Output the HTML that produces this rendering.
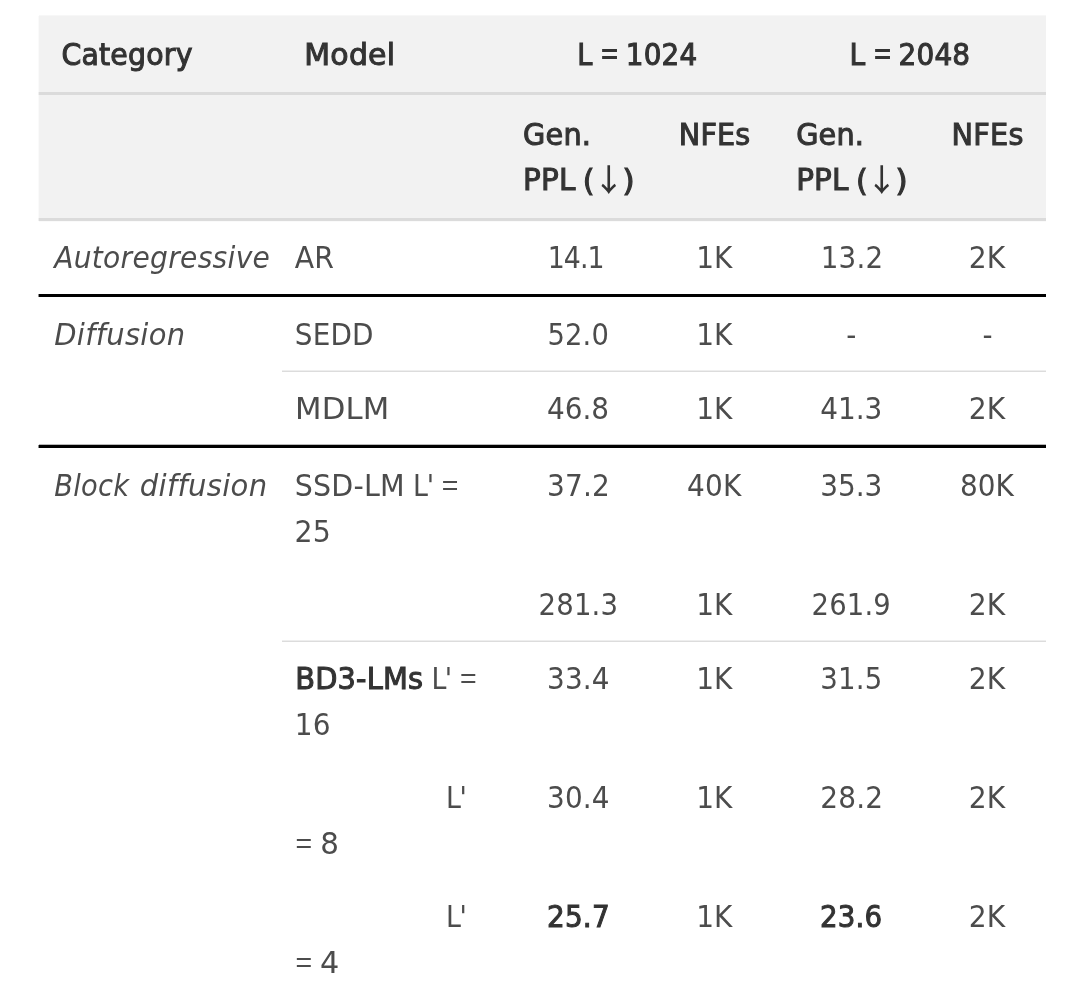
<!DOCTYPE html>
<html lang="en"><head><meta charset="utf-8"><title>Table</title>
<style>
html,body{margin:0;padding:0;background:#fff}
body{width:1080px;height:987px;position:relative;overflow:hidden;font-family:"DejaVu Sans Condensed", "DejaVu Sans", "Liberation Sans", sans-serif;-webkit-font-smoothing:antialiased}
.t{position:absolute;white-space:pre;line-height:1.4;margin:0;padding:0;font-stretch:condensed;transform-origin:0 0}
.H{font-size:31px;color:#333333;font-weight:normal;font-style:normal;-webkit-text-stroke:1.0px #333333;}
.B{font-size:31px;color:#4c4c4c;font-weight:normal;font-style:normal;}
.I{font-size:31px;color:#4c4c4c;font-weight:normal;font-style:italic;}
.S{font-size:31px;color:#333333;font-weight:normal;font-style:normal;-webkit-text-stroke:1.0px #333333;}
.bg{position:absolute;background:#f2f2f2}
.ln{position:absolute}
.tbl,.row,.cell{position:static;margin:0;padding:0;border:0;font-size:0;line-height:0}
.eqb,.eqh,.arr{font-family:'Noto Sans CJK SC','Noto Sans CJK JP','Liberation Sans',sans-serif;line-height:0;-webkit-text-stroke:0;font-stretch:normal}
.eqb{font-size:29px;font-weight:400}
.eqh{font-size:29px;font-weight:700}
.arr{font-size:31px;font-weight:500}
</style></head><body>
<div class="ln" style="left:39px;top:16px;width:1007px;height:205px;background:#f2f2f2"></div>
<div class="ln" style="left:39px;top:15px;width:1007px;height:1px;background:#f7f7f7"></div>
<div class="ln" style="left:38px;top:16px;width:1px;height:205px;background:#fafafa"></div>
<div class="ln" style="left:39px;top:92px;width:1007px;height:3px;background:#dbdbdb"></div>
<div class="ln" style="left:38px;top:92px;width:1px;height:3px;background:#f0f0f0"></div>
<div class="ln" style="left:39px;top:218px;width:1007px;height:3px;background:#dbdbdb"></div>
<div class="ln" style="left:38px;top:218px;width:1px;height:3px;background:#f0f0f0"></div>
<div class="ln" style="left:39px;top:221px;width:1007px;height:1px;background:#fafafa"></div>
<div class="ln" style="left:39px;top:294px;width:1007px;height:3px;background:#000"></div>
<div class="ln" style="left:38px;top:294px;width:1px;height:3px;background:#8c8c8c"></div>
<div class="ln" style="left:39px;top:444px;width:1007px;height:1px;background:#b8b8b8"></div>
<div class="ln" style="left:39px;top:445px;width:1007px;height:3px;background:#000"></div>
<div class="ln" style="left:38px;top:445px;width:1px;height:3px;background:#8c8c8c"></div>
<div class="ln" style="left:282px;top:370px;width:764px;height:1px;background:#eeeeee"></div>
<div class="ln" style="left:282px;top:371px;width:764px;height:1px;background:#dcdcdc"></div>
<div class="ln" style="left:282px;top:640px;width:764px;height:1px;background:#eeeeee"></div>
<div class="ln" style="left:282px;top:641px;width:764px;height:1px;background:#dcdcdc"></div>
<div role="table" class="tbl">
<div role="row" class="row">
<div role="columnheader" class="cell"><span class="t H" id="h_cat" style="left:61.00px;top:33px;letter-spacing:0.200px;transform:translateX(0.41px) scaleX(1.0176)">Category</span></div>
<div role="columnheader" class="cell"><span class="t H" id="h_model" style="left:304.00px;top:33px;letter-spacing:0.200px;transform:translateX(0.31px) scaleX(1.0733)">Model</span></div>
<div role="columnheader" class="cell"><span class="t H" id="h_l1a" style="left:577.00px;top:33px;transform:translateX(0.19px) scaleX(0.9714)">L</span> <span class="t H" id="h_l1b" style="left:601.11px;top:33px"><span class="eqh">=</span></span> <span class="t H" id="h_l1c" style="left:625.00px;top:33px;letter-spacing:0.200px;transform:translateX(0.80px) scaleX(0.9971)">1024</span></div>
<div role="columnheader" class="cell"><span class="t H" id="h_l2a" style="left:849.00px;top:33px;transform:translateX(0.59px) scaleX(1.0078)">L</span> <span class="t H" id="h_l2b" style="left:873.91px;top:33px"><span class="eqh">=</span></span> <span class="t H" id="h_l2c" style="left:898.00px;top:33px;letter-spacing:0.200px;transform:translateX(0.50px) scaleX(1.0007)">2048</span></div>
</div>
<div role="row" class="row">
<div role="columnheader" class="cell"><span class="t H" id="h_gen1" style="left:523.00px;top:113px;letter-spacing:0.200px;transform:translateX(0.11px) scaleX(1.0297)">Gen.</span> <span class="t H" id="h_ppl1a" style="left:523.00px;top:158px;letter-spacing:0.200px;transform:translateX(0.08px) scaleX(1.0564)">PPL</span> <span class="t H" id="h_ppl1b" style="left:582.00px;top:159px;transform:translateX(0.78px) scaleX(1.0838)">(</span> <span class="t H" id="h_ppl1c" style="left:593.22px;top:159px"><span class="arr">↓</span></span> <span class="t H" id="h_ppl1d" style="left:622.00px;top:159px;transform:translateX(0.33px) scaleX(1.1484)">)</span></div>
<div role="columnheader" class="cell"><span class="t H" id="h_nfe1" style="left:678.00px;top:113px;letter-spacing:0.200px;transform:translateX(0.79px) scaleX(1.0262)">NFEs</span></div>
<div role="columnheader" class="cell"><span class="t H" id="h_gen2" style="left:796.00px;top:113px;letter-spacing:0.200px;transform:translateX(0.15px) scaleX(1.0288)">Gen.</span> <span class="t H" id="h_ppl2a" style="left:796.00px;top:158px;letter-spacing:0.200px;transform:translateX(0.14px) scaleX(1.0564)">PPL</span> <span class="t H" id="h_ppl2b" style="left:855.00px;top:159px;transform:translateX(0.94px) scaleX(1.0839)">(</span> <span class="t H" id="h_ppl2c" style="left:866.30px;top:159px"><span class="arr">↓</span></span> <span class="t H" id="h_ppl2d" style="left:895.00px;top:159px;transform:translateX(0.35px) scaleX(1.1484)">)</span></div>
<div role="columnheader" class="cell"><span class="t H" id="h_nfe2" style="left:951.00px;top:113px;letter-spacing:0.200px;transform:translateX(0.62px) scaleX(1.0300)">NFEs</span></div>
</div>
<div role="row" class="row">
<div role="cell" class="cell"><span class="t I" id="r1_cat" style="left:54.00px;top:236px;letter-spacing:0.300px;transform:translateX(0.15px) scaleX(1.0079)">Autoregressive</span></div>
<div role="cell" class="cell"><span class="t B" id="r1_m" style="left:294.00px;top:236px;letter-spacing:0.200px;transform:translateX(0.75px) scaleX(1.0146)">AR</span></div>
<div role="cell" class="cell"><span class="t B" id="r1_a" style="left:547.00px;top:236px;letter-spacing:-0.951px;transform:translateX(0.64px) scaleX(0.9600)">14.1</span></div>
<div role="cell" class="cell"><span class="t B" id="r1_b" style="left:696.00px;top:236px;letter-spacing:0.200px;transform:translateX(0.13px) scaleX(1.0015)">1K</span></div>
<div role="cell" class="cell"><span class="t B" id="r1_c" style="left:820.00px;top:236px;letter-spacing:0.200px;transform:translateX(0.76px) scaleX(0.9938)">13.2</span></div>
<div role="cell" class="cell"><span class="t B" id="r1_d" style="left:968.00px;top:236px;letter-spacing:0.200px;transform:translateX(0.74px) scaleX(1.0086)">2K</span></div>
</div>
<div role="row" class="row">
<div role="cell" class="cell"><span class="t I" id="r2_cat" style="left:54.00px;top:313px;letter-spacing:0.300px;transform:translateX(0.25px) scaleX(1.0383)">Diffusion</span></div>
<div role="cell" class="cell"><span class="t B" id="r2_m" style="left:294.00px;top:313px;letter-spacing:0.200px;transform:translateX(0.75px) scaleX(0.9987)">SEDD</span></div>
<div role="cell" class="cell"><span class="t B" id="r2_a" style="left:547.00px;top:313px;letter-spacing:0.200px;transform:translateX(0.39px) scaleX(0.9813)">52.0</span></div>
<div role="cell" class="cell"><span class="t B" id="r2_b" style="left:696.00px;top:313px;letter-spacing:0.200px;transform:translateX(0.13px) scaleX(1.0015)">1K</span></div>
<div role="cell" class="cell"><span class="t B" id="r2_c" style="left:846.19px;top:313px">-</span></div>
<div role="cell" class="cell"><span class="t B" id="r2_d" style="left:982.38px;top:313px">-</span></div>
</div>
<div role="row" class="row">
<div role="cell" class="cell"><span class="t B" id="r3_m" style="left:295.00px;top:387px;letter-spacing:0.200px;font-family:'DejaVu Sans','Liberation Sans',sans-serif;font-stretch:normal;transform:translateX(0.00px) scaleX(0.9905)">MDLM</span></div>
<div role="cell" class="cell"><span class="t B" id="r3_a" style="left:546.97px;top:387px">46.8</span></div>
<div role="cell" class="cell"><span class="t B" id="r3_b" style="left:696.00px;top:387px;letter-spacing:0.200px;transform:translateX(0.13px) scaleX(1.0015)">1K</span></div>
<div role="cell" class="cell"><span class="t B" id="r3_c" style="left:820.19px;top:387px">41.3</span></div>
<div role="cell" class="cell"><span class="t B" id="r3_d" style="left:968.00px;top:387px;letter-spacing:0.200px;transform:translateX(0.74px) scaleX(1.0086)">2K</span></div>
</div>
<div role="row" class="row">
<div role="cell" class="cell"><span class="t I" id="r4_cat1" style="left:54.00px;top:464px;letter-spacing:0.300px;transform:translateX(0.16px) scaleX(0.9780)">Block</span> <span class="t I" id="r4_cat2" style="left:139.00px;top:464px;letter-spacing:0.300px;transform:translateX(0.75px) scaleX(1.0422)">diffusion</span></div>
<div role="cell" class="cell"><span class="t B" id="r4_ma" style="left:294.00px;top:464px;letter-spacing:0.200px;transform:translateX(0.75px) scaleX(1.0218)">SSD-LM</span> <span class="t B" id="r4_mb" style="left:413.00px;top:464px;letter-spacing:-1.334px;transform:translateX(0.11px) scaleX(0.9600)">L'</span> <span class="t B" id="r4_mc" style="left:442.00px;top:464px"><span class="eqb">=</span></span> <span class="t B" id="r4_m2" style="left:294.00px;top:510px;letter-spacing:0.200px;transform:translateX(0.50px) scaleX(1.0176)">25</span></div>
<div role="cell" class="cell"><span class="t B" id="r4_a" style="left:546.00px;top:464px;letter-spacing:0.200px;transform:translateX(0.97px) scaleX(1.0026)">37.2</span></div>
<div role="cell" class="cell"><span class="t B" id="r4_b" style="left:686.00px;top:464px;letter-spacing:0.200px;transform:translateX(0.97px) scaleX(1.0019)">40K</span></div>
<div role="cell" class="cell"><span class="t B" id="r4_c" style="left:820.19px;top:464px">35.3</span></div>
<div role="cell" class="cell"><span class="t B" id="r4_d" style="left:960.11px;top:464px">80K</span></div>
</div>
<div role="row" class="row">
<div role="cell" class="cell"><span class="t B" id="r5_a" style="left:538.00px;top:583px;letter-spacing:0.200px;transform:translateX(0.49px) scaleX(0.9863)">281.3</span></div>
<div role="cell" class="cell"><span class="t B" id="r5_b" style="left:696.00px;top:583px;letter-spacing:0.200px;transform:translateX(0.13px) scaleX(1.0015)">1K</span></div>
<div role="cell" class="cell"><span class="t B" id="r5_c" style="left:811.00px;top:583px;letter-spacing:0.200px;transform:translateX(0.53px) scaleX(0.9831)">261.9</span></div>
<div role="cell" class="cell"><span class="t B" id="r5_d" style="left:968.00px;top:583px;letter-spacing:0.200px;transform:translateX(0.74px) scaleX(1.0086)">2K</span></div>
</div>
<div role="row" class="row">
<div role="cell" class="cell"><span class="t S" id="r6_m" style="left:295.00px;top:657px;letter-spacing:0.200px;transform:translateX(0.14px) scaleX(1.0343)">BD3-LMs</span> <span class="t B" id="r6_mb" style="left:431.00px;top:657px;letter-spacing:-1.709px;transform:translateX(0.50px) scaleX(0.9600)">L'</span> <span class="t B" id="r6_mc" style="left:460.30px;top:657px"><span class="eqb">=</span></span> <span class="t B" id="r6_m2" style="left:294.00px;top:703px;letter-spacing:0.200px;transform:translateX(0.75px) scaleX(1.0016)">16</span></div>
<div role="cell" class="cell"><span class="t B" id="r6_a" style="left:546.00px;top:657px;letter-spacing:0.200px;transform:translateX(0.97px) scaleX(0.9983)">33.4</span></div>
<div role="cell" class="cell"><span class="t B" id="r6_b" style="left:696.00px;top:657px;letter-spacing:0.200px;transform:translateX(0.13px) scaleX(1.0015)">1K</span></div>
<div role="cell" class="cell"><span class="t B" id="r6_c" style="left:820.00px;top:657px;letter-spacing:0.200px;transform:translateX(0.26px) scaleX(0.9897)">31.5</span></div>
<div role="cell" class="cell"><span class="t B" id="r6_d" style="left:968.00px;top:657px;letter-spacing:0.200px;transform:translateX(0.74px) scaleX(1.0086)">2K</span></div>
</div>
<div role="row" class="row">
<div role="cell" class="cell"><span class="t B" id="r7_m" style="left:446.00px;top:776px;letter-spacing:-1.646px;transform:translateX(0.08px) scaleX(0.9600)">L'</span> <span class="t B" id="r7_m2a" style="left:295.75px;top:822px"><span class="eqb">=</span></span> <span class="t B" id="r7_m2b" style="left:320.00px;top:822px;transform:translateX(0.15px) scaleX(1.0529)">8</span></div>
<div role="cell" class="cell"><span class="t B" id="r7_a" style="left:546.00px;top:776px;letter-spacing:0.200px;transform:translateX(0.97px) scaleX(0.9983)">30.4</span></div>
<div role="cell" class="cell"><span class="t B" id="r7_b" style="left:696.00px;top:776px;letter-spacing:0.200px;transform:translateX(0.13px) scaleX(1.0015)">1K</span></div>
<div role="cell" class="cell"><span class="t B" id="r7_c" style="left:820.00px;top:776px;letter-spacing:0.200px;transform:translateX(0.16px) scaleX(1.0026)">28.2</span></div>
<div role="cell" class="cell"><span class="t B" id="r7_d" style="left:968.00px;top:776px;letter-spacing:0.200px;transform:translateX(0.74px) scaleX(1.0086)">2K</span></div>
</div>
<div role="row" class="row">
<div role="cell" class="cell"><span class="t B" id="r8_m" style="left:446.00px;top:895px;letter-spacing:-1.646px;transform:translateX(0.08px) scaleX(0.9600)">L'</span> <span class="t B" id="r8_m2a" style="left:295.75px;top:941px"><span class="eqb">=</span></span> <span class="t B" id="r8_m2b" style="left:319.00px;top:941px;transform:translateX(0.90px) scaleX(1.0835)">4</span></div>
<div role="cell" class="cell"><span class="t S" id="r8_a" style="left:547.00px;top:895px;letter-spacing:0.200px;transform:translateX(0.00px) scaleX(0.9992)">25.7</span></div>
<div role="cell" class="cell"><span class="t B" id="r8_b" style="left:696.00px;top:895px;letter-spacing:0.200px;transform:translateX(0.13px) scaleX(1.0015)">1K</span></div>
<div role="cell" class="cell"><span class="t S" id="r8_c" style="left:820.00px;top:895px;letter-spacing:0.200px;transform:translateX(0.00px) scaleX(0.9900)">23.6</span></div>
<div role="cell" class="cell"><span class="t B" id="r8_d" style="left:968.00px;top:895px;letter-spacing:0.200px;transform:translateX(0.74px) scaleX(1.0086)">2K</span></div>
</div>
</div>
</body></html>
